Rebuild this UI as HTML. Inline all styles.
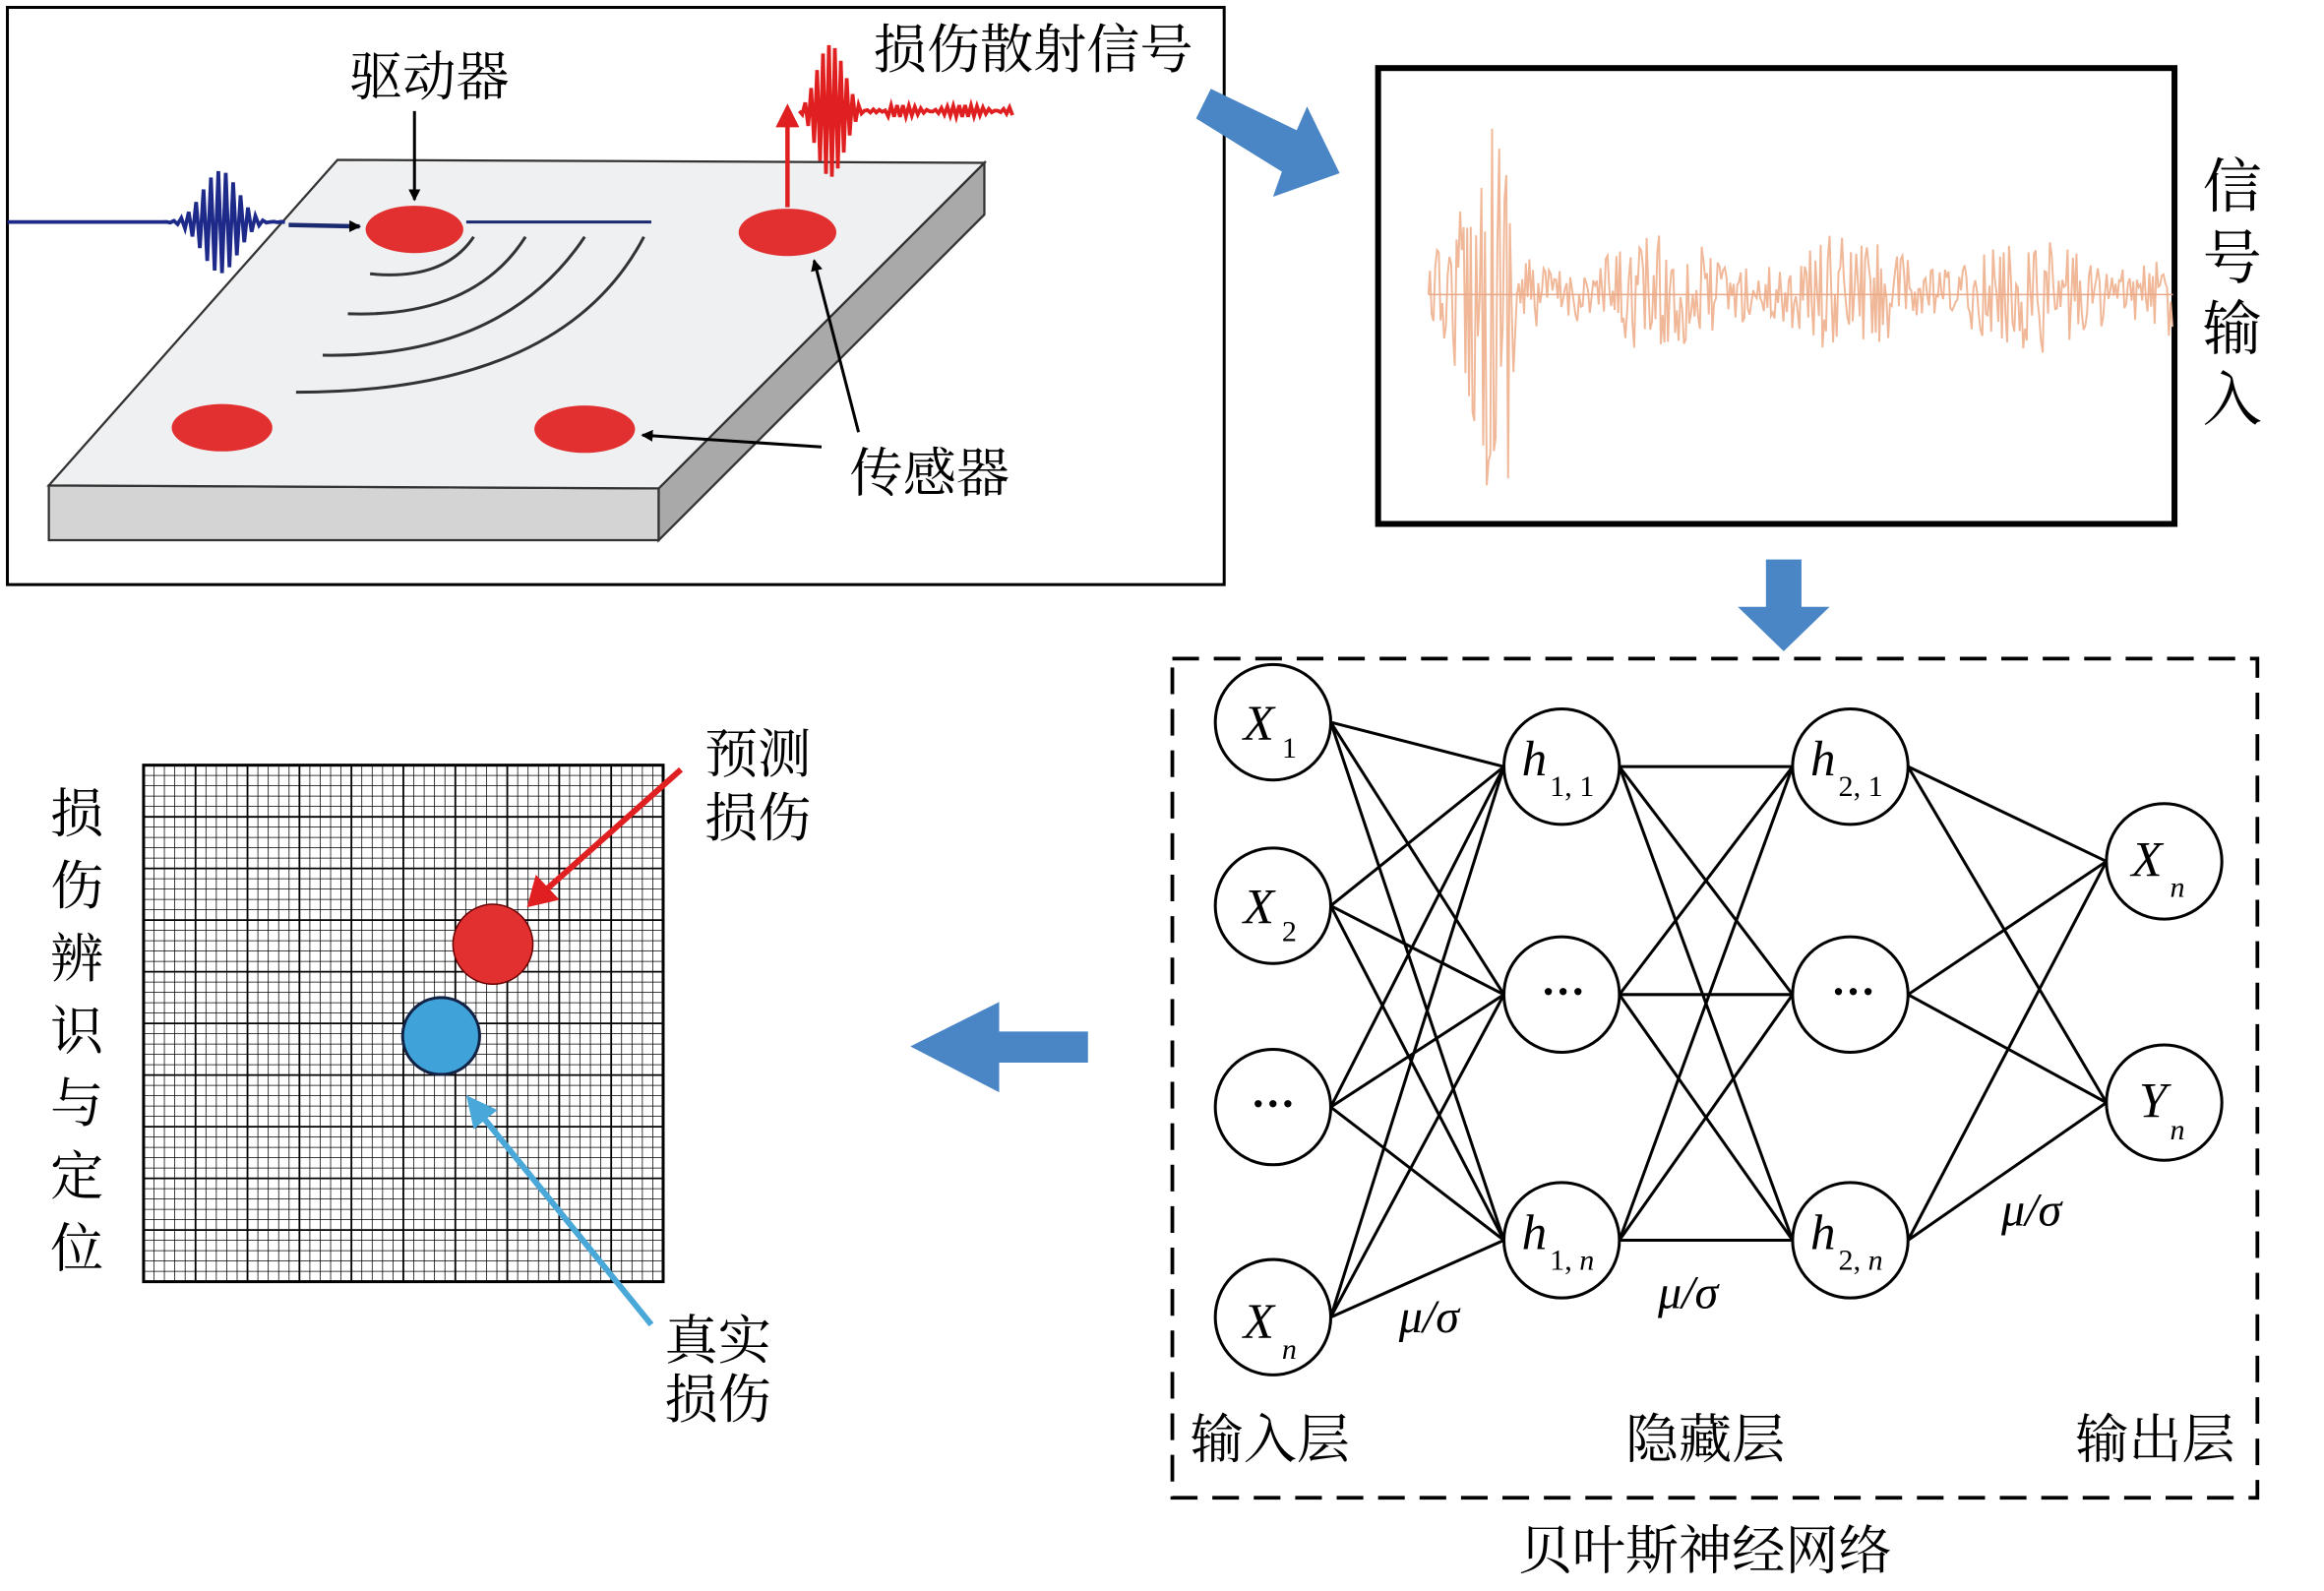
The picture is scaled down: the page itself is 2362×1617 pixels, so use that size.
<!DOCTYPE html><html><head><meta charset="utf-8"><style>html,body{margin:0;padding:0;background:#fff}svg{display:block}text{font-family:"Liberation Serif","Noto Serif CJK SC",serif}.c{font-family:"Liberation Serif","Noto Serif CJK SC","Noto Sans CJK SC",serif}</style></head><body>
<svg id="s" width="2362" height="1617" viewBox="0 0 1570 1075" preserveAspectRatio="none" xmlns="http://www.w3.org/2000/svg">
<defs>
<marker id="ab" markerWidth="8" markerHeight="8" refX="7" refY="4" orient="auto" markerUnits="userSpaceOnUse" viewBox="0 0 8 8"><path d="M0,0L8,4L0,8z" fill="#000"/></marker>
</defs>
<rect x="5" y="5" width="822" height="390" fill="#fff" stroke="#000" stroke-width="2"/>
<polygon points="33,328 445,330 445,365 33,365" fill="#d4d4d4" stroke="#333" stroke-width="1.5"/>
<polygon points="445,330 665,110 665,145 445,365" fill="#a9a9a9" stroke="#333" stroke-width="1.5"/>
<polygon points="33,328 228,108 665,110 445,330" fill="#eef0f2" stroke="#333" stroke-width="1.5"/>
<g fill="none" stroke="#333" stroke-width="2">
<path d="M250,185 Q300,190 320,160"/><path d="M235,212 Q320,215 355,160"/><path d="M218,240 Q340,242 395,160"/><path d="M200,265 Q380,265 435,160"/></g>
<line x1="315" y1="150" x2="440" y2="150" stroke="#1a2a6e" stroke-width="2"/>
<ellipse cx="280" cy="155" rx="33" ry="16" fill="#e23030"/>
<ellipse cx="532" cy="157" rx="33" ry="16" fill="#e23030"/>
<ellipse cx="150" cy="289" rx="34" ry="16" fill="#e23030"/>
<ellipse cx="395" cy="290" rx="34" ry="16" fill="#e23030"/>
<path id="bw" fill="none" stroke="#1e2a8a" stroke-width="2.5"/>
<line x1="195" y1="152" x2="243" y2="153" stroke="#1a2a6e" stroke-width="3" marker-end="url(#ab)"/>
<path id="rw" fill="none" stroke="#e02020" stroke-width="2.5"/>
<line x1="532" y1="140" x2="532" y2="82" stroke="#e02020" stroke-width="3"/><polygon points="524,86 540,86 532,70" fill="#e02020"/>
<text x="290" y="64" font-size="36" text-anchor="middle" class="c">驱动器</text>
<line x1="280" y1="75" x2="280" y2="135" stroke="#000" stroke-width="2" marker-end="url(#ab)"/>
<text x="698" y="46" font-size="36" text-anchor="middle" class="c">损伤散射信号</text>
<text x="628" y="332" font-size="36" text-anchor="middle" class="c">传感器</text>
<line x1="555" y1="302" x2="434" y2="294" stroke="#000" stroke-width="2" marker-end="url(#ab)"/>
<line x1="580" y1="292" x2="550" y2="176" stroke="#000" stroke-width="2" marker-end="url(#ab)"/>
<polygon points="808,80 818,60 876,88 883,72 905,117 860,133 866,116" fill="#4a86c5"/>
<rect x="931" y="46" width="538" height="308" fill="#fff" stroke="#000" stroke-width="4"/>
<path id="sw" fill="none" stroke="#f0b898" stroke-width="1.3"/>
<line x1="965" y1="199" x2="1468" y2="199" stroke="#e8a888" stroke-width="1"/>
<g font-size="40" text-anchor="middle" class="c"><text x="1508" y="140">信</text><text x="1508" y="188">号</text><text x="1508" y="236">输</text><text x="1508" y="284">入</text></g>
<polygon points="1193,378 1217,378 1217,410 1236,410 1205,440 1174,410 1193,410" fill="#4a86c5"/>
<rect x="792" y="445" width="733" height="567" fill="none" stroke="#000" stroke-width="2.5" stroke-dasharray="18,10"/>
<g id="net" stroke="#000" stroke-width="2" fill="#fff"></g>
<g font-size="34" font-style="italic" font-family="Liberation Serif">
<text x="840" y="500">X</text><text x="866" y="512" font-size="20" font-style="normal">1</text>
<text x="840" y="624">X</text><text x="866" y="636" font-size="20" font-style="normal">2</text>
<text x="840" y="904">X</text><text x="866" y="918" font-size="20">n</text>
<text x="1028" y="524">h</text><text x="1047" y="538" font-size="20" font-style="normal">1, 1</text>
<text x="1223" y="524">h</text><text x="1242" y="538" font-size="20" font-style="normal">2, 1</text>
<text x="1028" y="844">h</text><text x="1047" y="858" font-size="20" font-style="normal">1, <tspan font-style="italic">n</tspan></text>
<text x="1223" y="844">h</text><text x="1242" y="858" font-size="20" font-style="normal">2, <tspan font-style="italic">n</tspan></text>
<text x="1440" y="592">X</text><text x="1466" y="606" font-size="20">n</text>
<text x="1445" y="755">Y</text><text x="1466" y="770" font-size="20">n</text>
<text x="945" y="900" font-size="32">μ/σ</text><text x="1120" y="884" font-size="32">μ/σ</text><text x="1352" y="828" font-size="32">μ/σ</text>
</g>
<g font-size="30" text-anchor="middle" font-weight="bold"><text x="860" y="756">···</text><text x="1056" y="680">···</text><text x="1252" y="680">···</text></g>
<g font-size="36" text-anchor="middle" class="c"><text x="858" y="985">输入层</text><text x="1152" y="985">隐藏层</text><text x="1456" y="985">输出层</text><text x="1152" y="1060">贝叶斯神经网络</text></g>
<polygon points="735,697 675,697 675,677 615,707 675,738 675,718 735,718" fill="#4a86c5"/>
<rect x="97" y="517" width="351" height="349" fill="#fff" stroke="#000" stroke-width="2"/>
<g id="grid" stroke="#000"></g>
<circle cx="333" cy="638" r="27" fill="#e23030" stroke="#600" stroke-width="1"/>
<circle cx="298" cy="700" r="26" fill="#3fa2d8" stroke="#124" stroke-width="2"/>
<line x1="460" y1="520" x2="368" y2="602" stroke="#e02020" stroke-width="4"/><polygon points="356,613 362,591 378,608" fill="#e02020"/>
<line x1="440" y1="895" x2="324" y2="752" stroke="#4aa8d8" stroke-width="4"/><polygon points="315,740 336,750 320,763" fill="#4aa8d8"/>
<g font-size="36" text-anchor="middle" class="c"><text x="512" y="522">预测</text><text x="512" y="565">损伤</text><text x="485" y="918">真实</text><text x="485" y="958">损伤</text>
<text x="52" y="562">损</text><text x="52" y="611">伤</text><text x="52" y="660">辨</text><text x="52" y="709">识</text><text x="52" y="758">与</text><text x="52" y="807">定</text><text x="52" y="856">位</text></g>
</svg>
<script>
var NS="http://www.w3.org/2000/svg";
function el(p,t,a){var e=document.createElementNS(NS,t);for(var k in a)e.setAttribute(k,a[k]);p.appendChild(e);return e;}
var g=document.getElementById('grid');
for(var i=1;i<50;i++){var x=97+i*351/50;el(g,'line',{x1:x,y1:517,x2:x,y2:866,'stroke-width':i%5?0.5:1.2});var y=517+i*349/50;el(g,'line',{x1:97,y1:y,x2:448,y2:y,'stroke-width':i%5?0.5:1.2});}
var L=[[[860,488],[860,612],[860,748],[860,890]],[[1055,518],[1055,672],[1055,838]],[[1250,518],[1250,672],[1250,838]],[[1462,582],[1462,745]]];
var n=document.getElementById('net'),r=39;
for(var l=0;l<3;l++)for(var a of L[l])for(var b of L[l+1])el(n,'line',{x1:a[0]+r,y1:a[1],x2:b[0]-r,y2:b[1]});
for(var l of L)for(var a of l)el(n,'circle',{cx:a[0],cy:a[1],r:r});
var s=12345;function rnd(){s=(s*16807)%2147483647;return s/2147483647;}
var d="M965,199";for(var x=966;x<1468;x+=1.2){var t=x-965;var env=t<50?(t<5?20:130*Math.exp(-Math.pow((t-50)/25,2))+25):30+12*Math.sin(t/20);if(t>40&&t<60)env=125;d+="L"+x.toFixed(1)+","+(199+(rnd()*2-1)*env).toFixed(1);}
document.getElementById('sw').setAttribute('d',d);
d="M5,150L110,150";for(var x=110;x<195;x+=2.5){var t=x-110;var e=35*Math.exp(-Math.pow((t-40)/20,2));d+="L"+x+","+(150+e*Math.sin(t*1.3)).toFixed(1);}
document.getElementById('bw').setAttribute('d',d);
d="M540,75";for(var x=540;x<685;x+=2){var t=x-540;var e=t<60?45*Math.exp(-Math.pow((t-20)/18,2)):4;d+="L"+x+","+(75+e*Math.sin(t*1.5)).toFixed(1);}
document.getElementById('rw').setAttribute('d',d);
</script>
</body></html>
